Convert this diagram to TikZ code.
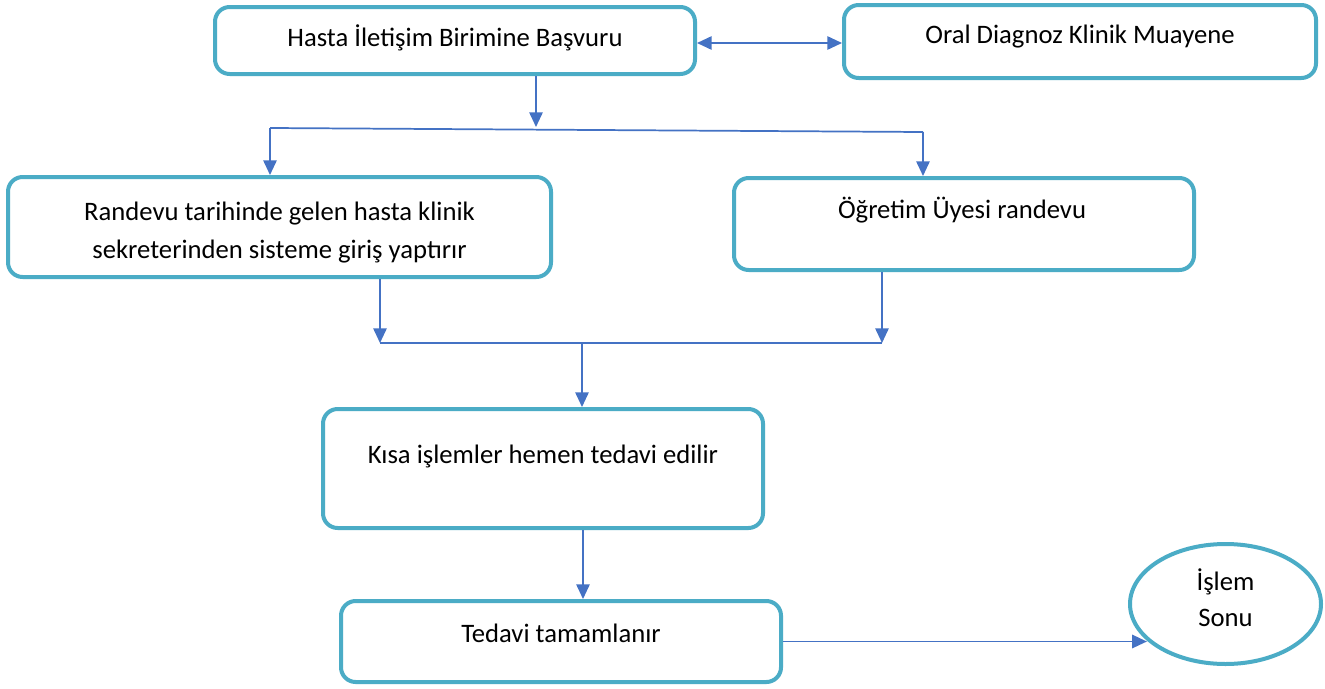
\documentclass[tikz,border=0pt]{standalone}
\usepackage{fontspec}
\setmainfont{Carlito}
\usetikzlibrary{arrows.meta,shapes.geometric}
\definecolor{boxc}{HTML}{4BACC6}
\definecolor{arrc}{HTML}{4472C4}
\begin{document}
\begin{tikzpicture}[x=0.75pt,y=-0.75pt,
  box/.style={draw=boxc, line width=3pt, rounded corners=11pt, inner sep=0pt, fill=white},
  endshape/.style={ellipse, draw=boxc, line width=3pt, inner sep=0pt, fill=white},
  lbl/.style={font=\fontsize{20}{28.5}\selectfont, align=center, inner sep=0pt, anchor=base},
  conn/.style={draw=arrc, line width=1.3pt},
  arr/.style={conn, -{Triangle[length=11pt,width=10pt]}},
  darr/.style={conn, {Triangle[length=11pt,width=10pt]}-{Triangle[length=11pt,width=10pt]}},
]
\useasboundingbox[fill=white] (0,0) rectangle (1325,689);
% boxes
\node[box, minimum width=360pt, minimum height=50.25pt] (b1) at (455,40.5) {};
\node[box, minimum width=354pt, minimum height=54.75pt] (b2) at (1080,41.5) {};
\node[box, minimum width=407.25pt, minimum height=75pt] (b3) at (279.5,227) {};
\node[box, minimum width=345pt, minimum height=69pt] (b4) at (964,224) {};
\node[box, minimum width=330pt, minimum height=89.25pt] (b5) at (543,468.5) {};
\node[box, minimum width=330pt, minimum height=60.75pt] (b6) at (561,641.5) {};
\node[endshape, minimum width=143.25pt, minimum height=90pt] (e) at (1225.5,604) {};
% labels
\node[lbl] (t1) at (455,46) {Hasta İletişim Birimine Başvuru};
\node[lbl] (t2) at (1080,43) {Oral Diagnoz Klinik Muayene};
\node[lbl] (t3a) at (279.5,220) {Randevu tarihinde gelen hasta klinik};
\node[lbl] (t3b) at (279.5,258) {sekreterinden sisteme giriş yaptırır};
\node[lbl] (t4) at (962,218) {Öğretim Üyesi randevu};
\node[lbl] (t5) at (543,463) {Kısa işlemler hemen tedavi edilir};
\node[lbl] (t6) at (561,642) {Tedavi tamamlanır};
\node[lbl] (t7a) at (1225.5,590) {İşlem};
\node[lbl] (t7b) at (1225.5,626) {Sonu};
% junction coordinates
\coordinate (da) at (0,43);
\coordinate (j1) at (536,127);
\coordinate (l1) at (270,128);
\coordinate (r1) at (923,132);
\coordinate (l2) at (380,343);
\coordinate (r2) at (882,343);
\coordinate (m2) at (582,343);
\coordinate (m3) at (583,600);
% connectors
\draw[darr] (b1.east |- da) -- (b2.west |- da);
\draw[arr] (b1.south -| j1) -- (j1);
\draw[conn] (l1) -- (r1);
\draw[arr] (l1) -- (l1 |- b3.north);
\draw[arr] (r1) -- (r1 |- b4.north);
\draw[arr] (b3.south -| l2) -- (l2);
\draw[arr] (b4.south -| r2) -- (r2);
\draw[conn] (l2) -- (r2);
\draw[arr] (m2) -- (m2 |- b5.north);
\draw[arr] (b5.south -| m3) -- (m3 |- b6.north);
\draw[arr] (b6.east) -- (b6.east -| e.205);
\end{tikzpicture}
\end{document}
